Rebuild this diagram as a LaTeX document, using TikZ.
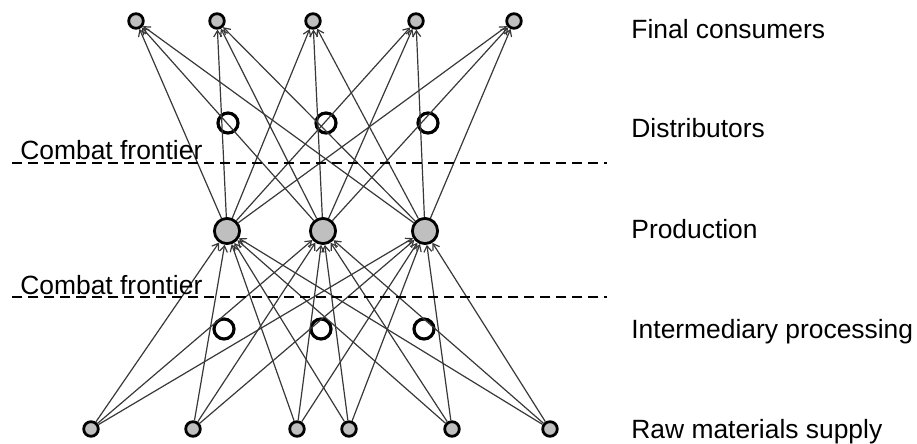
\documentclass[tikz,border=0pt]{standalone}
\usepackage{fontspec}
\setmainfont{Liberation Sans}
\usepackage{tikz}
\usetikzlibrary{arrows.meta}

\begin{document}
\begin{tikzpicture}[
  x=0.5pt,y=-0.5pt,
  font=\fontsize{13.2}{15}\selectfont,
  endpt/.style={circle,draw,line width=1.4pt,fill=black!25,minimum size=7.3pt,inner sep=0pt},
  relay/.style={circle,draw,line width=1.6pt,minimum size=10pt,inner sep=0pt},
  plant/.style={circle,draw,line width=1.4pt,fill=black!25,minimum size=12.6pt,inner sep=0pt},
  flow/.style={draw=black!78,line width=0.6pt,-{Straight Barb[length=3pt,width=4pt]}},
  frontier/.style={line width=0.75pt,dash pattern=on 5pt off 3pt},
  tier/.style={anchor=base west,inner sep=0pt}
]
  \useasboundingbox (0,0) rectangle (917,444);
  % final consumers
  \node[endpt] (c1) at (136,21) {};
  \node[endpt] (c2) at (217,21) {};
  \node[endpt] (c3) at (313,21) {};
  \node[endpt] (c4) at (416,21) {};
  \node[endpt] (c5) at (514,21) {};
  % distributors
  \node[relay] (d1) at (228,123) {};
  \node[relay] (d2) at (326,123) {};
  \node[relay] (d3) at (428,123) {};
  % production
  \node[plant] (p1) at (227,231) {};
  \node[plant] (p2) at (323,231) {};
  \node[plant] (p3) at (425,231) {};
  % intermediary processing
  \node[relay] (i1) at (224,329) {};
  \node[relay] (i2) at (321,329) {};
  \node[relay] (i3) at (424,329) {};
  % raw materials
  \node[endpt] (r1) at (91,429) {};
  \node[endpt] (r2) at (193,429) {};
  \node[endpt] (r3) at (297,429) {};
  \node[endpt] (r4) at (349,429) {};
  \node[endpt] (r5) at (452,429) {};
  \node[endpt] (r6) at (550,429) {};
  % flows
  \foreach \p in {1,2,3}{
    \foreach \c in {1,...,5}
      \draw[flow] (p\p) -- (c\c);
    \foreach \r in {1,...,6}
      \draw[flow] (r\r) -- (p\p);
  }
  % frontiers
  \draw[frontier] (12,163) -- (607,163);
  \draw[frontier] (12,297) -- (607,297);
  \node[tier] (cf1) at (20,160) {Combat frontier};
  \node[tier] (cf2) at (20,294) {Combat frontier};
  % tiers
  \node[tier] (t1) at (631,39) {Final consumers};
  \node[tier] (t2) at (631,138) {Distributors};
  \node[tier] (t3) at (631,239) {Production};
  \node[tier] (t4) at (631,338) {Intermediary processing};
  \node[tier] (t5) at (631,438) {Raw materials supply};
\end{tikzpicture}
\end{document}
